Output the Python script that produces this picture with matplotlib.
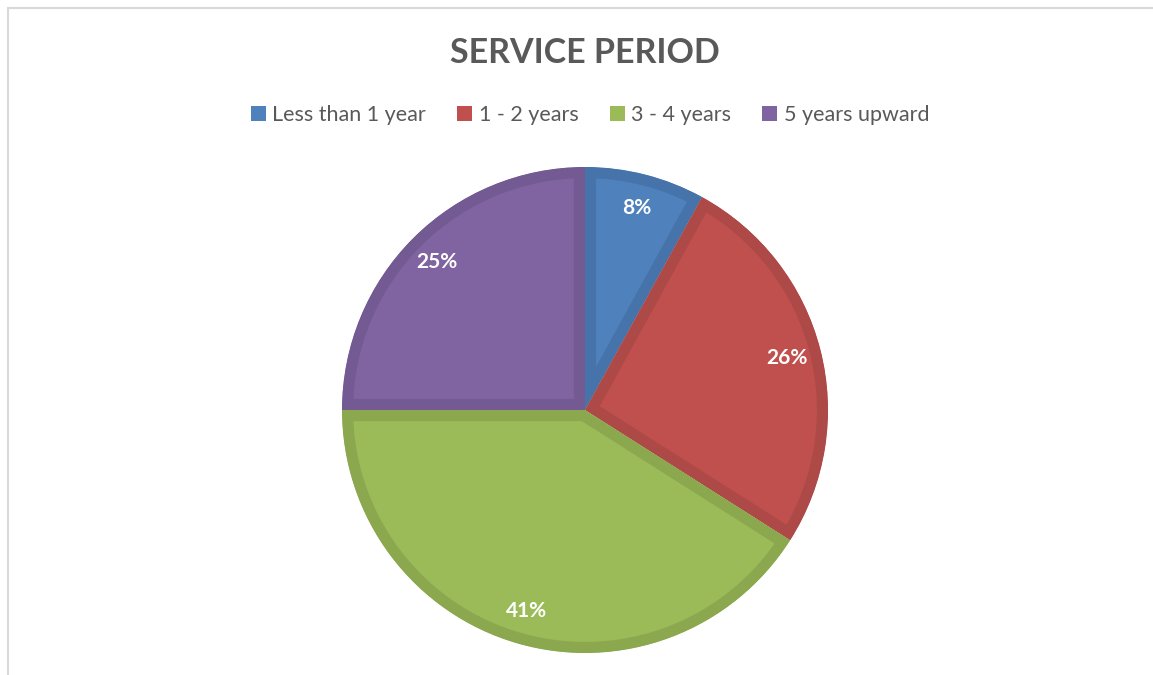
import matplotlib.pyplot as plt
from matplotlib.patches import Rectangle

# データ
categories = ['Less than 1 year', '1 - 2 years', '3 - 4 years', '5 years upward']
shares = [8, 26, 41, 25]
colors = ['#4F81BD', '#C0504D', '#9BBB59', '#8064A2']
edge_colors = ['#4674AA', '#AD4946', '#8BA84F', '#735A92']

plt.rcParams['font.family'] = ['Lato', 'DejaVu Sans']

W, H = 1153, 675
fig = plt.figure(figsize=(W / 100, H / 100), dpi=100)

# 枠線
fig.patches.append(Rectangle((8 / W, -0.1), 1.2, (H - 8) / H + 0.1, transform=fig.transFigure,
                             fill=False, edgecolor='#D9D9D9', linewidth=1.5))

# 円グラフの位置 (中心 585,410 / 半径 243 px)
cx, cy, r = 585, 410, 243
ax = fig.add_axes([(cx - r) / W, (H - cy - r) / H, 2 * r / W, 2 * r / H])

wedges, texts, autotexts = ax.pie(
    shares, colors=colors, startangle=90, counterclock=False,
    autopct='%1.0f%%', pctdistance=0.86,
    textprops=dict(color='white', fontsize=15, fontweight='bold'))

ax.set_xlim(-1, 1)
ax.set_ylim(-1, 1)
ax.set_aspect('auto')

# 内側だけの濃い縁取り
for w, ec in zip(wedges, edge_colors):
    w.set_edgecolor(ec)
    w.set_linewidth(16)
    w.set_clip_on(True)
    w.set_clip_path(w.get_path(), w.get_transform())

fig.text(cx / W, 1 - 53 / H, 'SERVICE PERIOD', ha='center', va='center',
         fontsize=24.5, fontweight='bold', color='#595959')

fig.legend(wedges, categories, loc='center', bbox_to_anchor=(590 / W, 1 - 115 / H),
           ncol=4, frameon=False, fontsize=15.5, handlelength=0.7, handleheight=0.7,
           handletextpad=0.3, columnspacing=1.45, labelcolor='#595959')
for h in fig.legends[0].legend_handles:
    h.set_linewidth(0)

fig.savefig('out.png', dpi=100)
